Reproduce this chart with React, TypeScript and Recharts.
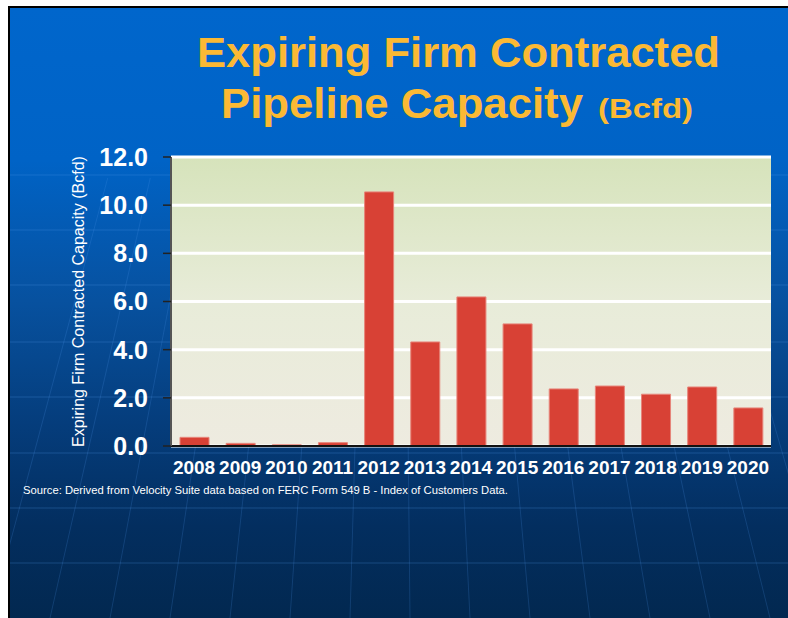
import React from 'react';
import { BarChart, Bar, XAxis, YAxis, CartesianGrid, ReferenceLine } from 'recharts';

const years = ['2008', '2009', '2010', '2011', '2012', '2013', '2014', '2015', '2016', '2017', '2018', '2019', '2020'];
const capacity = [0.36, 0.11, 0.05, 0.14, 10.55, 4.32, 6.19, 5.07, 2.37, 2.49, 2.15, 2.45, 1.58];
const yTicks = [0, 2, 4, 6, 8, 10, 12];
const boundaryTicks = [0, 1, 2, 3, 4, 5, 6, 7, 8, 9, 10, 11, 12, 13];

const titleLine1 = 'Expiring Firm Contracted';
const titleLine2 = 'Pipeline Capacity';
const titleUnit = '(Bcfd)';
const yLabel = 'Expiring Firm Contracted Capacity (Bcfd)';
const sourceNote = 'Source: Derived from Velocity Suite data based on FERC Form 549 B - Index of Customers Data.';

const data = years.map((year, i) => ({ year, value: capacity[i] }));

const FONT = '"Liberation Sans", Arial, Helvetica, sans-serif';
const W = 778;
const H = 610;

const hLines = [167, 222, 277, 334, 389, 445, 500, 555];
const fanBottoms = [-20, 40, 100, 160, 220, 280, 340, 400, 460, 520, 580, 640, 700, 760, 820];

function Decor() {
  const vx = 384;
  const vy = -900;
  return (
    <svg width={W} height={H} style={{ position: 'absolute', left: 0, top: 0 }}>
      {hLines.map((y) => (
        <line key={'h' + y} x1={0} x2={W} y1={y} y2={y} stroke="rgba(80,150,235,0.28)" strokeWidth={1} />
      ))}
      {fanBottoms.map((xb) => {
        const t = (170 - vy) / (H - vy);
        const xt = vx + (xb - vx) * t;
        return (
          <line key={'v' + xb} x1={xt} y1={170} x2={xb} y2={H} stroke="rgba(80,150,235,0.2)" strokeWidth={1} />
        );
      })}
      <text x={187} y={59} fill="#fbb934" fontFamily={FONT} fontWeight="bold" fontSize={43} textLength={523} lengthAdjust="spacingAndGlyphs">
        {titleLine1}
      </text>
      <text x={211} y={110} fill="#fbb934" fontFamily={FONT} fontWeight="bold" fontSize={43} textLength={362} lengthAdjust="spacingAndGlyphs">
        {titleLine2}
      </text>
      <text x={588} y={110} fill="#fbb934" fontFamily={FONT} fontWeight="bold" fontSize={28} textLength={95} lengthAdjust="spacingAndGlyphs">
        {titleUnit}
      </text>
      <text x={13} y={486} fill="#ffffff" fontFamily={FONT} fontSize={10.5} textLength={485} lengthAdjust="spacingAndGlyphs">
        {sourceNote}
      </text>
    </svg>
  );
}

export default function App() {
  return (
    <div
      style={{
        position: 'absolute',
        left: 8,
        top: 6,
        width: W,
        height: H,
        borderTop: '2px solid #000',
        borderLeft: '2px solid #000',
        background: 'linear-gradient(to bottom, #0066cc 0%, #0063c6 25%, #07519f 48%, #053d7c 68%, #032e5f 85%, #022850 100%)',
        overflow: 'hidden',
      }}
    >
      <Decor />
      <div style={{ position: 'absolute', left: 0, top: 0 }}>
        <BarChart
          width={W}
          height={H}
          data={data}
          margin={{ top: 149, right: 17, bottom: 132, left: 0 }}
          barSize={29}
        >
          <defs>
            <linearGradient id="plotBg" x1="0" y1="0" x2="0" y2="1">
              <stop offset="0%" stopColor="#d6e3bb" />
              <stop offset="50%" stopColor="#e8ecd9" />
              <stop offset="100%" stopColor="#eeebe0" />
            </linearGradient>
          </defs>
          <CartesianGrid vertical={false} stroke="#ffffff" strokeWidth={3} fill="url(#plotBg)" fillOpacity={1} />
          <XAxis
            xAxisId="grid"
            type="number"
            domain={[0, 13]}
            ticks={boundaryTicks}
            tick={false}
            axisLine={false}
            tickLine={{ stroke: '#111', strokeWidth: 2 }}
            tickSize={6}
            height={0}
            allowDataOverflow
          />
          <XAxis
            xAxisId="cat"
            dataKey="year"
            interval={0}
            tickLine={false}
            tickSize={0}
            tickMargin={15}
            height={40}
            axisLine={{ stroke: '#111', strokeWidth: 2 }}
            tick={{ fill: '#ffffff', fontSize: 19, fontWeight: 'bold', fontFamily: FONT }}
          />
          <YAxis
            domain={[0, 12]}
            ticks={yTicks}
            width={161}
            tickSize={8}
            tickMargin={15}
            tickFormatter={(v: number) => v.toFixed(1)}
            axisLine={{ stroke: '#555', strokeWidth: 2 }}
            tickLine={{ stroke: '#222', strokeWidth: 1.5 }}
            tick={{ fill: '#ffffff', fontSize: 25, fontWeight: 'bold', fontFamily: FONT }}
            label={{
              value: yLabel,
              angle: -90,
              position: 'insideLeft',
              offset: 68,
              style: { textAnchor: 'middle', fill: '#ffffff', fontSize: 16, fontFamily: FONT },
            }}
          />
          <ReferenceLine xAxisId="grid" x={13} stroke="#ffffff" strokeWidth={2} ifOverflow="visible" />
          <Bar
            xAxisId="cat"
            dataKey="value"
            fill="#d84135"
            stroke="#e7857a"
            strokeWidth={1}
            isAnimationActive={false}
          />
        </BarChart>
      </div>
    </div>
  );
}
